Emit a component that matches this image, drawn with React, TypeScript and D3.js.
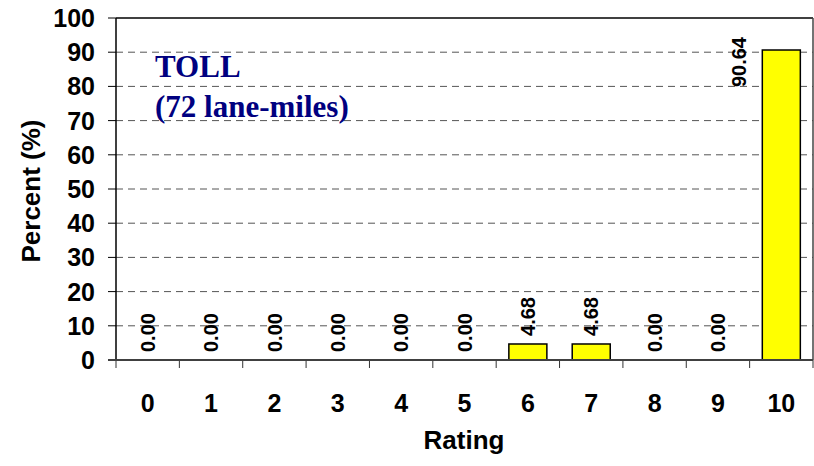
import React from "react";
import * as d3 from "d3";

// chart data
const ratings = ["0", "1", "2", "3", "4", "5", "6", "7", "8", "9", "10"];
const percents = [0, 0, 0, 0, 0, 0, 4.68, 4.68, 0, 0, 90.64];
const yTicks = [0, 10, 20, 30, 40, 50, 60, 70, 80, 90, 100];
const titleLines = ["TOLL", "(72 lane-miles)"];

function drawChart(svgRef: React.RefObject<SVGSVGElement | null>) {
  const w = 814;
  const h = 466;
  const svg = d3.select(svgRef.current);
  svg.selectAll("*").remove();
  svg.attr("width", w).attr("height", h);

  const left = 116;
  const right = 813;
  const top = 18;
  const bottom = 360;
  const font = "Arial, 'Liberation Sans', sans-serif";

  const x = d3.scaleBand<string>()
    .domain(ratings)
    .range([left, right])
    .paddingInner(0.4)
    .paddingOuter(0.2);
  const y = d3.scaleLinear().domain([0, 100]).range([bottom, top]);
  const step = x.step();

  // dashed gridlines
  svg.append("g")
    .selectAll("line")
    .data(yTicks.filter(t => t > 0 && t < 100))
    .join("line")
    .attr("x1", left)
    .attr("x2", right)
    .attr("y1", d => y(d))
    .attr("y2", d => y(d))
    .attr("stroke", "#555")
    .attr("stroke-width", 1)
    .attr("stroke-dasharray", "7,5");

  // top + right border
  svg.append("line")
    .attr("x1", left).attr("x2", right)
    .attr("y1", top).attr("y2", top)
    .attr("stroke", "#000").attr("stroke-width", 1.5);
  svg.append("line")
    .attr("x1", right).attr("x2", right)
    .attr("y1", top).attr("y2", bottom)
    .attr("stroke", "#444").attr("stroke-width", 1.5);

  // bars
  svg.append("g")
    .selectAll("rect")
    .data(percents)
    .join("rect")
    .attr("x", (d, i) => x(ratings[i])!)
    .attr("width", x.bandwidth())
    .attr("y", d => y(d))
    .attr("height", d => bottom - y(d))
    .attr("fill", d => (d > 0 ? "#ffff00" : "none"))
    .attr("stroke", d => (d > 0 ? "#000" : "none"))
    .attr("stroke-width", 1.5);

  // value labels (rotated); the tall bar's label goes beside it
  const overflows = (d: number) => y(d) - 48 < top;
  svg.append("g")
    .selectAll("text")
    .data(percents)
    .join("text")
    .attr("transform", (d, i) => {
      const cx = x(ratings[i])! + x.bandwidth() / 2;
      const tx = overflows(d) ? x(ratings[i])! - 24 : cx;
      const ty = overflows(d) ? top + 19 : y(d) - 8;
      return `translate(${tx},${ty}) rotate(-90)`;
    })
    .attr("text-anchor", d => (overflows(d) ? "end" : "start"))
    .attr("dy", "0.36em")
    .attr("font-family", font)
    .attr("font-weight", "bold")
    .attr("font-size", 20)
    .attr("fill", "#000")
    .text(d => d.toFixed(2));

  // y axis
  svg.append("line")
    .attr("x1", left).attr("x2", left)
    .attr("y1", top).attr("y2", bottom)
    .attr("stroke", "#000").attr("stroke-width", 1.5);
  const yg = svg.append("g");
  yg.selectAll("line")
    .data(yTicks)
    .join("line")
    .attr("x1", left - 8).attr("x2", left)
    .attr("y1", d => y(d)).attr("y2", d => y(d))
    .attr("stroke", "#000").attr("stroke-width", 1);
  yg.selectAll("text")
    .data(yTicks)
    .join("text")
    .attr("x", 95)
    .attr("y", d => y(d))
    .attr("dy", "0.36em")
    .attr("text-anchor", "end")
    .attr("font-family", font)
    .attr("font-weight", "bold")
    .attr("font-size", 25)
    .text(d => d);

  // x axis
  const xg = svg.append("g");
  xg.selectAll("line")
    .data(d3.range(ratings.length + 1))
    .join("line")
    .attr("x1", i => left + i * step).attr("x2", i => left + i * step)
    .attr("y1", bottom).attr("y2", bottom + 8)
    .attr("stroke", "#333").attr("stroke-width", 1);
  svg.append("line")
    .attr("x1", left - 8).attr("x2", right)
    .attr("y1", bottom).attr("y2", bottom)
    .attr("stroke", "#404040").attr("stroke-width", 2);
  xg.selectAll("text")
    .data(ratings)
    .join("text")
    .attr("x", d => x(d)! + x.bandwidth() / 2)
    .attr("y", 412)
    .attr("text-anchor", "middle")
    .attr("font-family", font)
    .attr("font-weight", "bold")
    .attr("font-size", 25)
    .text(d => d);

  // axis titles
  svg.append("text")
    .attr("x", 464).attr("y", 449)
    .attr("text-anchor", "middle")
    .attr("font-family", font)
    .attr("font-weight", "bold")
    .attr("font-size", 26)
    .text("Rating");
  svg.append("text")
    .attr("transform", `translate(40,${(top + bottom) / 2 + 2}) rotate(-90)`)
    .attr("text-anchor", "middle")
    .attr("font-family", font)
    .attr("font-weight", "bold")
    .attr("font-size", 26)
    .text("Percent (%)");

  // annotation
  svg.append("g")
    .selectAll("text")
    .data(titleLines)
    .join("text")
    .attr("x", 155)
    .attr("y", (d, i) => 77 + i * 40)
    .attr("font-family", "'Times New Roman', 'Liberation Serif', serif")
    .attr("font-weight", "bold")
    .attr("font-size", 31)
    .attr("fill", "#000080")
    .text(d => d);
}

const App = () => {
  const svg = React.useRef<SVGSVGElement>(null);

  React.useEffect(() => {
    drawChart(svg);
  }, [svg]);

  return (
    <svg ref={svg} style={{ position: "absolute", left: 0, top: 0, background: "#fff" }} />
  );
};

export default App;
